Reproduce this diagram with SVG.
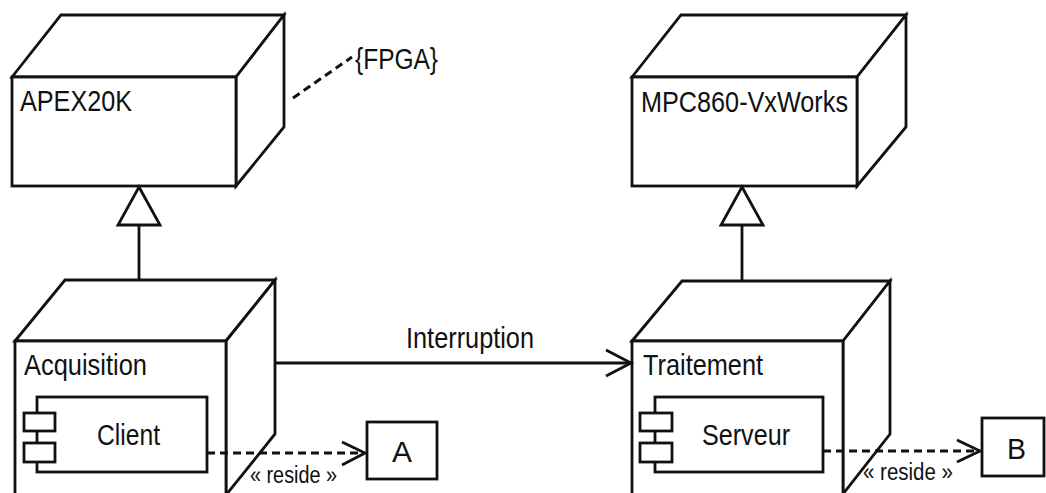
<svg xmlns="http://www.w3.org/2000/svg" width="1046" height="493" viewBox="0 0 1046 493">
<style>
.s{fill:#fff;stroke:#111;stroke-width:2.8;stroke-linejoin:miter}
.l{fill:none;stroke:#111;stroke-width:2.8}
.d{fill:none;stroke:#111;stroke-width:3;stroke-dasharray:8 5}
text{font-family:"Liberation Sans",Arial,sans-serif;fill:#111}
.t{font-size:30px}
.r{font-size:23px}
</style>
<rect width="1046" height="493" fill="#fff"/>
<g id="apex20k">
<polygon class="s" points="12,77 61,15 284,15 236,77"/>
<polygon class="s" points="236,77 284,15 284,127 236,186"/>
<rect class="s" x="12" y="77" width="224" height="109"/>
<text class="t" x="20" y="111" textLength="112" lengthAdjust="spacingAndGlyphs">APEX20K</text>
</g>
<g id="fpga">
<text class="t" x="355" y="69" font-size="28" textLength="83" lengthAdjust="spacingAndGlyphs">{FPGA}</text>
</g>
<g id="mpc860">
<polygon class="s" points="632,77 681,15 906,15 857,77"/>
<polygon class="s" points="857,77 906,15 906,127 857,186"/>
<rect class="s" x="632" y="77" width="225" height="109"/>
<text class="t" x="641" y="112" textLength="207" lengthAdjust="spacingAndGlyphs">MPC860-VxWorks</text>
</g>
<g id="acquisition">
<polygon class="s" points="15,341 65,280 275,280 226,341"/>
<polygon class="s" points="226,341 275,280 275,434 226,495"/>
<rect class="s" x="15" y="341" width="211" height="160"/>
<text class="t" x="24" y="375" textLength="123" lengthAdjust="spacingAndGlyphs">Acquisition</text>
</g>
<g id="client">
<rect class="s" x="37" y="397" width="170" height="75"/>
<rect class="s" x="24" y="413" width="31" height="18"/>
<rect class="s" x="24" y="443" width="31" height="19"/>
<text class="t" x="97" y="445" textLength="63" lengthAdjust="spacingAndGlyphs">Client</text>
</g>
<g id="traitement">
<polygon class="s" points="632,341 682,281 890,281 843,341"/>
<polygon class="s" points="843,341 890,281 890,434 843,494"/>
<rect class="s" x="632" y="341" width="211" height="160"/>
<text class="t" x="643" y="375" textLength="120" lengthAdjust="spacingAndGlyphs">Traitement</text>
</g>
<g id="serveur">
<rect class="s" x="655" y="397" width="168" height="75"/>
<rect class="s" x="640" y="413" width="32" height="18"/>
<rect class="s" x="640" y="443" width="32" height="19"/>
<text class="t" x="702" y="445" textLength="88" lengthAdjust="spacingAndGlyphs">Serveur</text>
</g>
<g id="a">
<rect class="s" x="367" y="422" width="70" height="57"/>
<text class="t" x="392" y="462" textLength="20" lengthAdjust="spacingAndGlyphs">A</text>
</g>
<g id="b">
<rect class="s" x="982" y="418" width="62" height="58"/>
<text class="t" x="1007" y="459" textLength="19" lengthAdjust="spacingAndGlyphs">B</text>
</g>
<g id="connectors">
<line class="d" x1="293" y1="98" x2="352" y2="57"/>
<line class="l" x1="139" y1="280" x2="139" y2="225"/>
<polygon class="s" points="139,187 118,225 160,225"/>
<line class="l" x1="742" y1="281" x2="742" y2="225"/>
<polygon class="s" points="742,187 721,225 763,225"/>
<line class="l" x1="275" y1="363" x2="631" y2="363"/>
<polyline class="l" points="606,350 631,363 606,376"/>
<text class="t" x="406" y="348" textLength="128" lengthAdjust="spacingAndGlyphs">Interruption</text>
<line class="d" x1="207" y1="453" x2="364" y2="453"/>
<polyline class="l" points="342,442 365,453 342,465"/>
<text class="r" x="250" y="483" textLength="87" lengthAdjust="spacingAndGlyphs">« reside »</text>
<line class="d" x1="823" y1="451" x2="979" y2="451"/>
<polyline class="l" points="957,440 980,451 957,462"/>
<text class="r" x="863" y="480" textLength="90" lengthAdjust="spacingAndGlyphs">« reside »</text>
</g>
</svg>
